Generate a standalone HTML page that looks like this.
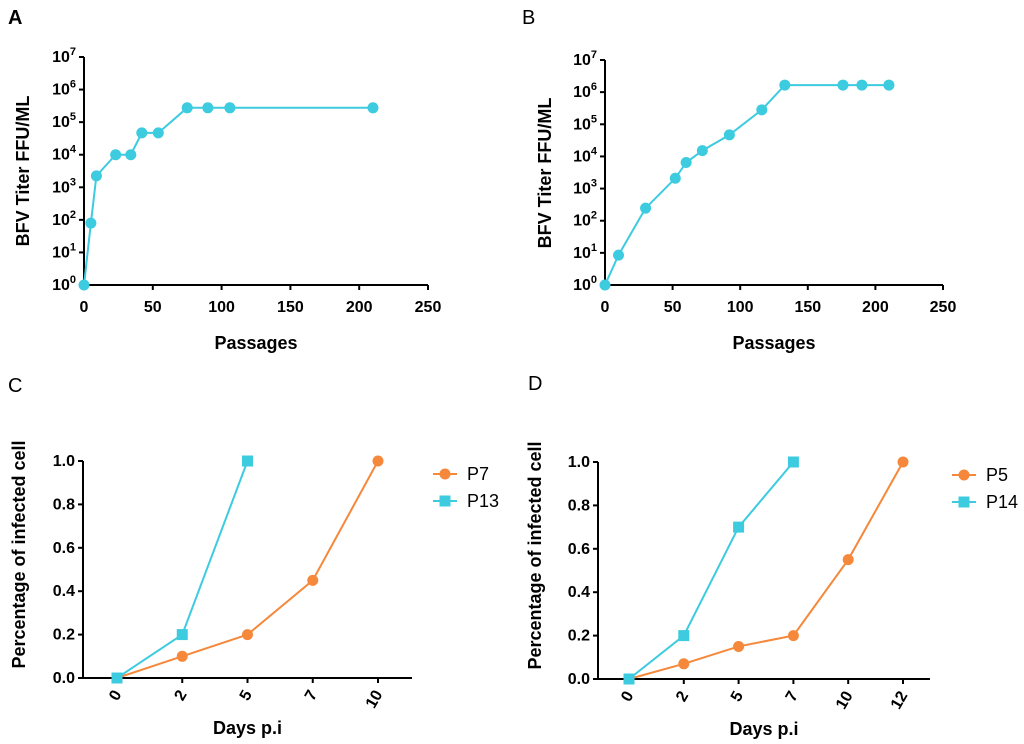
<!DOCTYPE html>
<html><head><meta charset="utf-8"><style>
body{margin:0;background:#fff;width:1024px;height:744px;overflow:hidden}
svg{display:block;font-family:"Liberation Sans",Arial,sans-serif}
</style></head><body>
<svg id="s" width="1024" height="744" viewBox="0 0 1024 744"></svg>
<script>
const NS="http://www.w3.org/2000/svg";
const svg=document.getElementById('s');
// Panel A data
const aX=[0,5,9,23,34,42,54,75,90,106,210];
const aLog=[0,1.9,3.35,4,4,4.67,4.67,5.44,5.44,5.44,5.44];
// Panel B data
const bX=[0,10,30,52,60,72,92,116,133,176,190,210];
const bLog=[0,0.93,2.39,3.32,3.81,4.18,4.67,5.45,6.22,6.22,6.22,6.22];
// Panel C data
const cCats=["0","2","5","7","10"];
const cP7=[0,0.1,0.2,0.45,1.0];
const cP13=[0,0.2,1.0];
// Panel D data
const dCats=["0","2","5","7","10","12"];
const dP5=[0,0.07,0.15,0.2,0.55,1.0];
const dP14=[0,0.2,0.7,1.0];
const yTicksC=["0.0","0.2","0.4","0.6","0.8","1.0"];
const xTicksAB=[0,50,100,150,200,250];
const CY="#3ccbdf",OR="#f5883a";

function el(tag,attrs,parent){const e=document.createElementNS(NS,tag);for(const k in attrs)e.setAttribute(k,attrs[k]);(parent||svg).appendChild(e);return e;}
function txt(s,attrs,parent){const t=el('text',attrs,parent);t.textContent=s;return t;}

function logPanel(name,x0,x1,y0,y1,xs,ys,label,lx,ly,bold,ytx,ytyc){
  const g=el('g',{});
  
  
  const sx=v=>x0+(x1-x0)*v/250, sy=v=>y0-(y0-y1)*v/7;
  const pl=txt(label,{x:lx,y:ly,'font-size':20,'font-weight':bold?'bold':'normal'},g);
  
  
  el('line',{x1:x0,y1:y0,x2:x1,y2:y0,stroke:'#000','stroke-width':2},g);
  el('line',{x1:x0,y1:y0,x2:x0,y2:y1,stroke:'#000','stroke-width':2},g);
  for(let i=0;i<=7;i++){const y=sy(i);
    el('line',{x1:x0-5,y1:y,x2:x0,y2:y,stroke:'#000','stroke-width':2},g);
    const t=el('text',{x:x0-8,y:y+5,'font-size':16,'font-weight':'bold','text-anchor':'end'},g);
    t.textContent='10';const ts=el('tspan',{dy:-7,'font-size':11},t);ts.textContent=i;
    
    }
  xTicksAB.forEach(v=>{const x=sx(v);
    el('line',{x1:x,y1:y0,x2:x,y2:y0+5,stroke:'#000','stroke-width':2},g);
    const t=txt(String(v),{x:x,y:y0+27,'font-size':16,'font-weight':'bold','text-anchor':'middle'},g);
    
    });
  const xt=txt('Passages',{x:(x0+x1)/2,y:y0+64,'font-size':18,'font-weight':'bold','text-anchor':'middle'},g);
  
  
  const yt=txt('BFV Titer FFU/ML',{x:0,y:0,'font-size':18,'font-weight':'bold','text-anchor':'middle',transform:`translate(${ytx},${ytyc}) rotate(-90)`},g);
  
  
  const pts=xs.map((v,i)=>sx(v)+','+sy(ys[i])).join(' ');
  const line=el('polyline',{points:pts,fill:'none',stroke:CY,'stroke-width':2},g);
  
  
  xs.forEach((v,i)=>{const c=el('circle',{cx:sx(v),cy:sy(ys[i]),r:5.5,fill:CY},g);
    
    });
}
logPanel('panel-a',84,428,285,57,aX,aLog,'A',8,24,true,29,171);
logPanel('panel-b',605,943,285,60,bX,bLog,'B',522,24,false,551,173);

function catPanel(name,label,lx,ly,x0,x1,y0,y1,cx,step,cats,s1,s2,n1,n2,legX,ytx){
  const g=el('g',{});
  
  
  const sx=i=>cx+i*step, sy=v=>y0-(y0-y1)*v;
  const pl=txt(label,{x:lx,y:ly,'font-size':20},g);
  
  
  el('line',{x1:x0,y1:y0,x2:x1,y2:y0,stroke:'#000','stroke-width':2},g);
  el('line',{x1:x0,y1:y0,x2:x0,y2:y1,stroke:'#000','stroke-width':2},g);
  yTicksC.forEach((s,i)=>{const y=sy(i*0.2);
    el('line',{x1:x0-5,y1:y,x2:x0,y2:y,stroke:'#000','stroke-width':2},g);
    const t=txt(s,{x:x0-8,y:y+5,'font-size':16,'font-weight':'bold','text-anchor':'end'},g);
    
    });
  cats.forEach((s,i)=>{const x=sx(i);
    el('line',{x1:x,y1:y0,x2:x,y2:y0+5,stroke:'#000','stroke-width':2},g);
    const t=txt(s,{x:0,y:0,'font-size':16,'font-weight':'bold','text-anchor':'end',transform:`translate(${x+5},${y0+16}) rotate(-60)`},g);
    
    });
  const xt=txt('Days p.i',{x:(x0+x1)/2,y:y0+56,'font-size':18,'font-weight':'bold','text-anchor':'middle'},g);
  
  
  const yt=txt('Percentage of infected cell',{x:0,y:0,'font-size':18,'font-weight':'bold','text-anchor':'middle',transform:`translate(${ytx},${(y0+y1)/2-15}) rotate(-90)`},g);
  
  
  const l1=el('polyline',{points:s1.map((v,i)=>sx(i)+','+sy(v)).join(' '),fill:'none',stroke:OR,'stroke-width':2},g);
  
  
  const l2=el('polyline',{points:s2.map((v,i)=>sx(i)+','+sy(v)).join(' '),fill:'none',stroke:CY,'stroke-width':2},g);
  
  
  s1.forEach((v,i)=>{const c=el('circle',{cx:sx(i),cy:sy(v),r:5.5,fill:OR},g);
    
    });
  s2.forEach((v,i)=>{const r=el('rect',{x:sx(i)-5.5,y:sy(v)-5.5,width:11,height:11,fill:CY},g);
    
    });
  const lg=el('g',{},g);
  
  
  [[n1,OR,y1+13,'c'],[n2,CY,y1+40,'s']].forEach(([n,col,y,m])=>{
    el('line',{x1:legX,y1:y,x2:legX+24,y2:y,stroke:col,'stroke-width':2},lg);
    if(m==='c')el('circle',{cx:legX+12,cy:y,r:5.5,fill:col},lg);else el('rect',{x:legX+6.5,y:y-5.5,width:11,height:11,fill:col},lg);
    const t=txt(n,{x:legX+34,y:y+6,'font-size':18},lg);
    
    });
}
catPanel('panel-c','C',8,392,83,412,678,461,117,65.25,cCats,cP7,cP13,'P7','P13',433,25);
catPanel('panel-d','D',528,390,598,930,679,462,629,54.8,dCats,dP5,dP14,'P5','P14',952,541);
</script>
</body></html>
